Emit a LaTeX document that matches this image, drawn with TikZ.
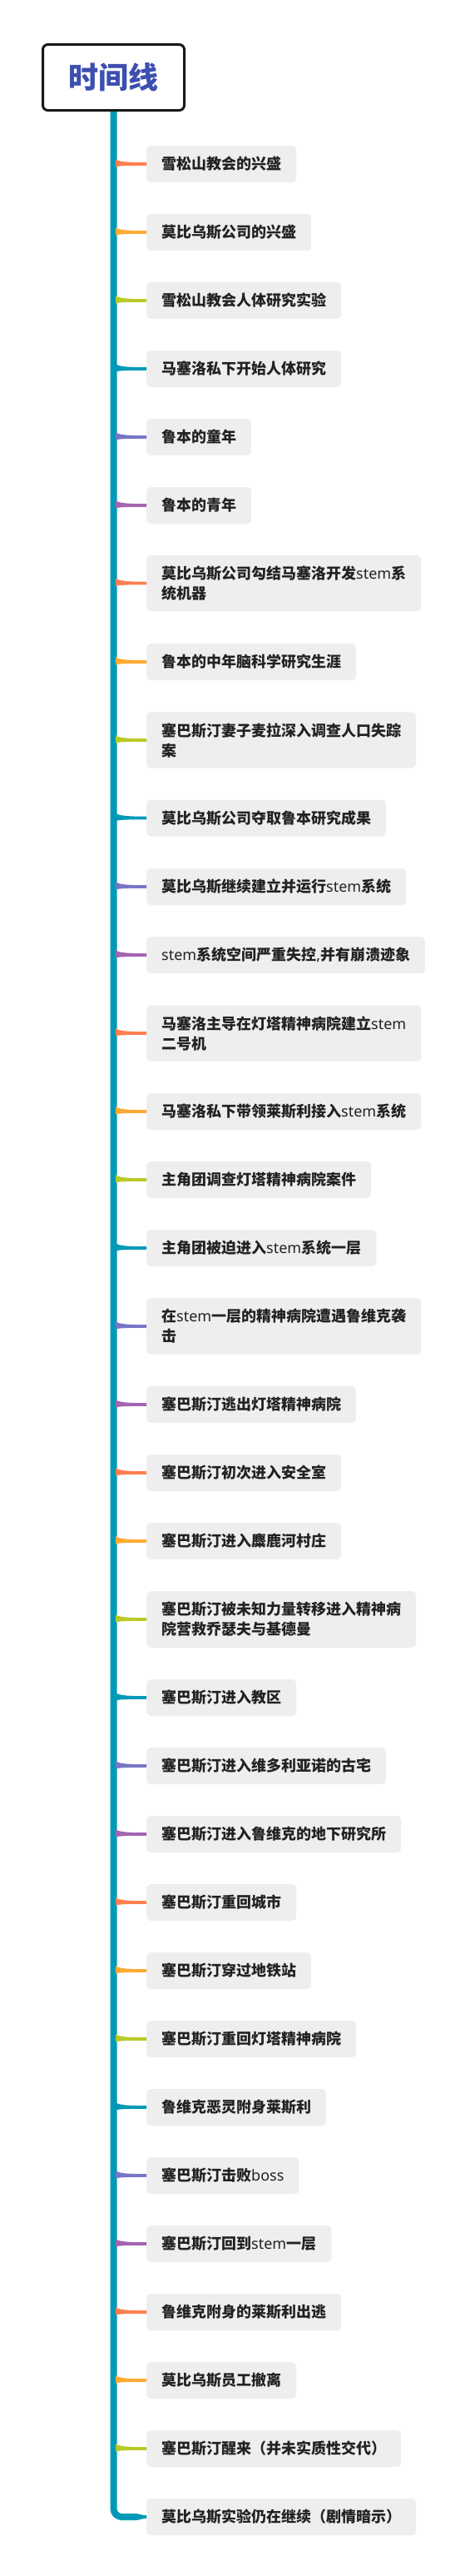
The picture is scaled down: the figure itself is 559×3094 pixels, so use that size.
\documentclass[tikz,border=0pt]{standalone}
\usepackage{tikz}
\usepackage{fontspec}
\newfontfamily\cjk{Noto Sans CJK SC}
\newfontfamily\latin{Noto Sans}
\definecolor{spineteal}{RGB}{0, 153, 183}
\definecolor{coral1}{RGB}{255, 127, 80}
\definecolor{orange1}{RGB}{255, 170, 51}
\definecolor{lime1}{RGB}{184, 202, 40}
\definecolor{lilac1}{RGB}{120, 118, 200}
\definecolor{plum1}{RGB}{164, 100, 176}
\definecolor{boxgray}{RGB}{238, 238, 238}
\definecolor{inkdark}{RGB}{34, 34, 34}
\definecolor{titleblue}{RGB}{61, 79, 175}
\usetikzlibrary{calc, positioning}

\begin{document}
\begin{tikzpicture}[x=1pt, y=1pt,
  title/.style={draw=black!90, line width=3pt, rounded corners=6pt, fill=white, minimum width=170pt, minimum height=79pt, text=titleblue, font=\cjk\bfseries\fontsize{36}{40}\selectfont},
  event/.style={fill=boxgray, rounded corners=5pt, inner xsep=18pt, inner ysep=13pt, minimum height=44pt, anchor=west, align=left, text=inkdark, font=\cjk\bfseries\fontsize{18}{24}\selectfont},
  branch/.style={fill=#1, to path={($(\tikztostart)+(-1,6)$) .. controls +(3,-3.5) and +(-20,0) .. ($(\tikztotarget)+(0,1.8)$) -- ($(\tikztotarget)+(0,-1.8)$) .. controls +(-20,0) and +(3,1.5) .. ($(\tikztostart)+(-1,-3.5)$) -- cycle}},
  taper/.style={fill=spineteal, to path={($(\tikztostart)+(0,4)$) .. controls +(6,0) and +(-6,0) .. ($(\tikztotarget)+(0,1.8)$) -- ($(\tikztotarget)+(0,-1.8)$) .. controls +(-6,0) and +(6,0) .. ($(\tikztostart)+(0,-4)$) -- cycle}},
  spine/.style={draw=spineteal, line width=8pt, rounded corners=10pt}]
  \useasboundingbox (0,0) rectangle (559,-3094);

  % Title
  \node[title] (title) at (136.5, -93) {时间线};

  % Events
  \node[event] (n1) at (176, -197) {雪松山教会的兴盛};
  \node[event] (n2) at (176, -279) {莫比乌斯公司的兴盛};
  \node[event] (n3) at (176, -361) {雪松山教会人体研究实验};
  \node[event] (n4) at (176, -443) {马塞洛私下开始人体研究};
  \node[event] (n5) at (176, -525) {鲁本的童年};
  \node[event] (n6) at (176, -607) {鲁本的青年};
  \node[event] (n7) at (176, -700.5) {莫比乌斯公司勾结马塞洛开发{\latin\mdseries stem}系\\统机器};
  \node[event] (n8) at (176, -795) {鲁本的中年脑科学研究生涯};
  \node[event] (n9) at (176, -889) {塞巴斯汀妻子麦拉深入调查人口失踪\\案};
  \node[event] (n10) at (176, -982.5) {莫比乌斯公司夺取鲁本研究成果};
  \node[event] (n11) at (176, -1065) {莫比乌斯继续建立并运行{\latin\mdseries stem}系统};
  \node[event] (n12) at (176, -1147) {{\latin\mdseries stem}系统空间严重失控{\latin\mdseries ,}并有崩溃迹象};
  \node[event] (n13) at (176, -1241) {马塞洛主导在灯塔精神病院建立{\latin\mdseries stem}\\二号机};
  \node[event] (n14) at (176, -1335) {马塞洛私下带领莱斯利接入{\latin\mdseries stem}系统};
  \node[event] (n15) at (176, -1417) {主角团调查灯塔精神病院案件};
  \node[event] (n16) at (176, -1499) {主角团被迫进入{\latin\mdseries stem}系统一层};
  \node[event] (n17) at (176, -1593) {在{\latin\mdseries stem}一层的精神病院遭遇鲁维克袭\\击};
  \node[event] (n18) at (176, -1687) {塞巴斯汀逃出灯塔精神病院};
  \node[event] (n19) at (176, -1769) {塞巴斯汀初次进入安全室};
  \node[event] (n20) at (176, -1851) {塞巴斯汀进入麋鹿河村庄};
  \node[event] (n21) at (176, -1945) {塞巴斯汀被未知力量转移进入精神病\\院营救乔瑟夫与基德曼};
  \node[event] (n22) at (176, -2039) {塞巴斯汀进入教区};
  \node[event] (n23) at (176, -2121) {塞巴斯汀进入维多利亚诺的古宅};
  \node[event] (n24) at (176, -2203) {塞巴斯汀进入鲁维克的地下研究所};
  \node[event] (n25) at (176, -2285) {塞巴斯汀重回城市};
  \node[event] (n26) at (176, -2367) {塞巴斯汀穿过地铁站};
  \node[event] (n27) at (176, -2449) {塞巴斯汀重回灯塔精神病院};
  \node[event] (n28) at (176, -2531) {鲁维克恶灵附身莱斯利};
  \node[event] (n29) at (176, -2613) {塞巴斯汀击败{\latin\mdseries boss}};
  \node[event] (n30) at (176, -2695) {塞巴斯汀回到{\latin\mdseries stem}一层};
  \node[event] (n31) at (176, -2777) {鲁维克附身的莱斯利出逃};
  \node[event] (n32) at (176, -2859) {莫比乌斯员工撤离};
  \node[event] (n33) at (176, -2941) {塞巴斯汀醒来（并未实质性交代）};
  \node[event] (n34) at (176, -3023) {莫比乌斯实验仍在继续（剧情暗示）};

  % Spine
  \coordinate (sp) at ($(title.south)+(3.5,0)$);
  \coordinate (tail) at ($(n34.west)+(-14,0)$);
  \draw[spine] (title.south) |- (tail);
  \fill[taper] (tail) to (n34.west);

  % Branches
  \fill[branch=coral1] (n1.west -| sp) to (n1.west);
  \fill[branch=orange1] (n2.west -| sp) to (n2.west);
  \fill[branch=lime1] (n3.west -| sp) to (n3.west);
  \fill[branch=spineteal] (n4.west -| sp) to (n4.west);
  \fill[branch=lilac1] (n5.west -| sp) to (n5.west);
  \fill[branch=plum1] (n6.west -| sp) to (n6.west);
  \fill[branch=coral1] (n7.west -| sp) to (n7.west);
  \fill[branch=orange1] (n8.west -| sp) to (n8.west);
  \fill[branch=lime1] (n9.west -| sp) to (n9.west);
  \fill[branch=spineteal] (n10.west -| sp) to (n10.west);
  \fill[branch=lilac1] (n11.west -| sp) to (n11.west);
  \fill[branch=plum1] (n12.west -| sp) to (n12.west);
  \fill[branch=coral1] (n13.west -| sp) to (n13.west);
  \fill[branch=orange1] (n14.west -| sp) to (n14.west);
  \fill[branch=lime1] (n15.west -| sp) to (n15.west);
  \fill[branch=spineteal] (n16.west -| sp) to (n16.west);
  \fill[branch=lilac1] (n17.west -| sp) to (n17.west);
  \fill[branch=plum1] (n18.west -| sp) to (n18.west);
  \fill[branch=coral1] (n19.west -| sp) to (n19.west);
  \fill[branch=orange1] (n20.west -| sp) to (n20.west);
  \fill[branch=lime1] (n21.west -| sp) to (n21.west);
  \fill[branch=spineteal] (n22.west -| sp) to (n22.west);
  \fill[branch=lilac1] (n23.west -| sp) to (n23.west);
  \fill[branch=plum1] (n24.west -| sp) to (n24.west);
  \fill[branch=coral1] (n25.west -| sp) to (n25.west);
  \fill[branch=orange1] (n26.west -| sp) to (n26.west);
  \fill[branch=lime1] (n27.west -| sp) to (n27.west);
  \fill[branch=spineteal] (n28.west -| sp) to (n28.west);
  \fill[branch=lilac1] (n29.west -| sp) to (n29.west);
  \fill[branch=plum1] (n30.west -| sp) to (n30.west);
  \fill[branch=coral1] (n31.west -| sp) to (n31.west);
  \fill[branch=orange1] (n32.west -| sp) to (n32.west);
  \fill[branch=lime1] (n33.west -| sp) to (n33.west);
\end{tikzpicture}
\end{document}
